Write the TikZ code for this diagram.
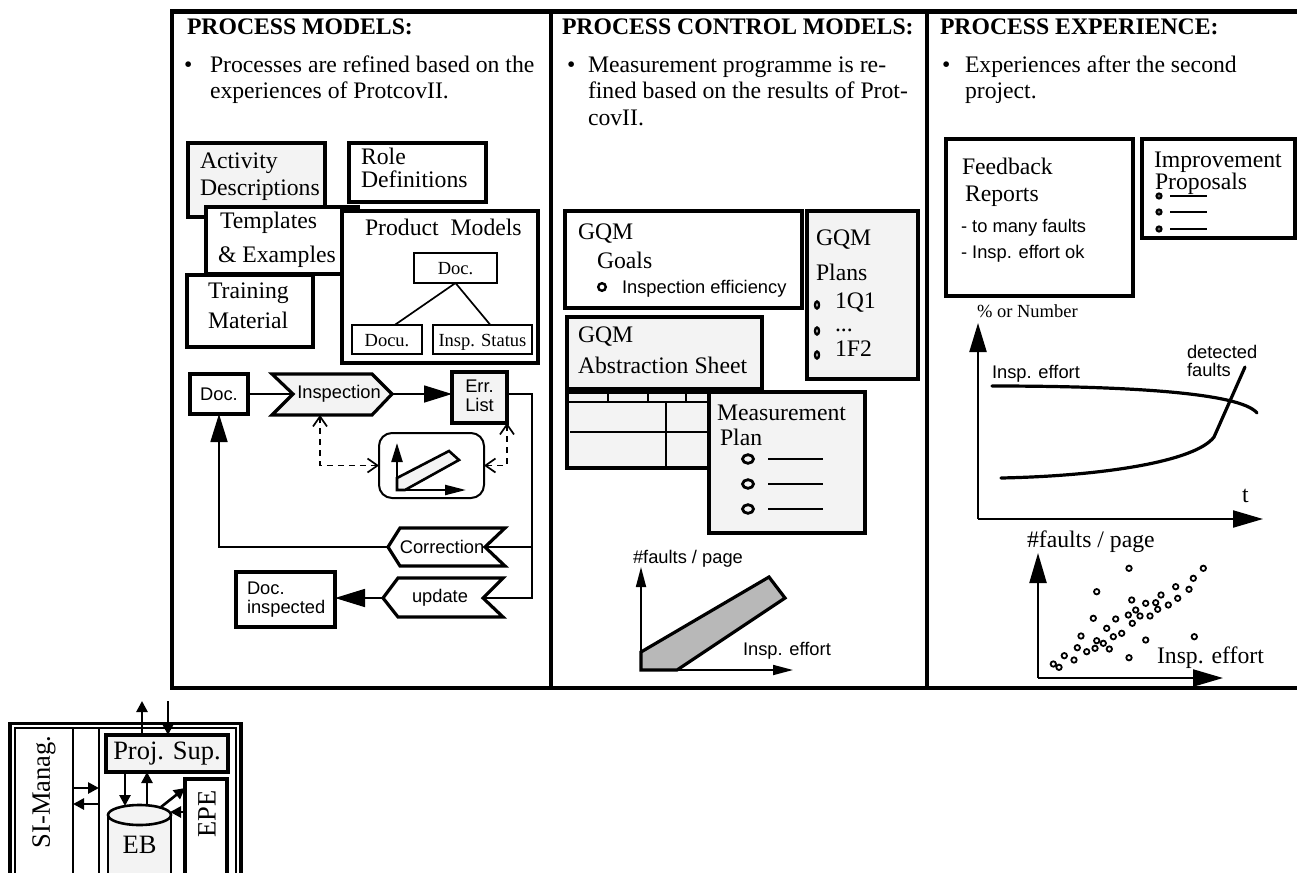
\documentclass[tikz,border=0pt]{standalone}
\usepackage{fontspec}
\setmainfont{Liberation Serif}
\setsansfont{Liberation Sans}
\usetikzlibrary{arrows.meta,calc}
\definecolor{lightfill}{RGB}{243,243,243}
\definecolor{bandfill}{RGB}{184,184,184}

\newcommand\fsL{\fontsize{23.7pt}{26pt}\selectfont}
\newcommand\fsM{\fontsize{18.5pt}{21pt}\selectfont}
\newcommand\fsS{\fontsize{18.3pt}{19pt}\selectfont\sffamily}
\newcommand\fsX{\fontsize{26.5pt}{28pt}\selectfont}

% rectangle node given by its top-left and bottom-right corners
\newcommand\mkbox[6][]{%
  \pgfmathsetmacro\bxw{#5-#3}%
  \pgfmathsetmacro\bxh{#6-#4}%
  \node[#1, anchor=north west, minimum width=\bxw pt, minimum height=\bxh pt,
        inner sep=0pt, outer sep=0pt] (#2) at (#3,#4) {};}

\tikzset{
  panel/.style={line width=4.8pt},
  bx/.style={draw, line width=3.2pt, fill=white},
  gbx/.style={bx, fill=lightfill},
  thinbx/.style={draw, line width=1.6pt, fill=white},
  shapeline/.style={line width=3.2pt, line join=miter},
  txt/.style={inner sep=0pt, outer sep=0pt, anchor=base west},
  ctxt/.style={inner sep=0pt, outer sep=0pt},
  conn/.style={line width=1.7pt},
  bigtip/.style={-{Triangle[length=28pt,width=17pt]}},
  dconn/.style={line width=1.7pt, dash pattern=on 6pt off 5pt,
    {Straight Barb[length=10pt,width=14pt]}-{Straight Barb[length=10pt,width=14pt]}},
  sarr/.style={line width=2.6pt, -{Triangle[length=11pt,width=11pt]}},
  curve/.style={line width=3.2pt, line cap=round},
  dot/.style={line width=1.8pt},
}

\begin{document}
\begin{tikzpicture}[x=1pt, y=-1pt]
\useasboundingbox (0,0) rectangle (1297,872);
\clip (0,0) rectangle (1297,872);
\fill[white] (0,0) rectangle (1297,872);

% ---------- frame of the three columns ----------
\draw[panel] (172,11.5) rectangle (1320,688);
\draw[panel] (551,11.5) -- (551,688);
\draw[panel] (927,11.5) -- (927,688);

% ================= PROCESS MODELS =================
\node[txt,font=\fsL\bfseries] (pmtitle) at (187,35) {PROCESS MODELS:};
\node[txt,font=\fsL] (pmbul) at (184,73) {\textbullet};
\node[txt,font=\fsL] (pmtxta) at (210,73) {Processes are refined based on the};
\node[txt,font=\fsL] (pmtxtb) at (210,99) {experiences of ProtcovII.};

\mkbox[gbx]{act}{188}{143}{325}{217}
\node[txt,font=\fsL] (acta) at (200,168) {Activity};
\node[txt,font=\fsL] (actb) at (200,195) {Descriptions};

\mkbox[bx]{role}{349}{143}{486}{202}
\node[txt,font=\fsL] (rolea) at (361,164) {Role};
\node[txt,font=\fsL] (roleb) at (361,187) {Definitions};

\mkbox[bx]{tmpl}{206}{207}{358}{274}
\node[txt,font=\fsL] (tmpla) at (220,228) {Templates};
\node[txt,font=\fsL] (tmplb) at (218,262) {\& Examples};

\mkbox[bx]{train}{187}{275}{313}{347}
\node[txt,font=\fsL] (traina) at (208,298) {Training};
\node[txt,font=\fsL] (trainb) at (208,328) {Material};

\mkbox[bx]{pm}{342}{211}{538}{363}
\node[txt,font=\fsL] (pmt) at (365,235) {Product\ \ Models};
\mkbox[thinbx]{pmdoc}{414}{253}{497}{283}
\node[ctxt,font=\fsM,anchor=base] (pmdoct) at (455.5,274) {Doc.};
\mkbox[thinbx]{pmdocu}{352}{325}{422}{354}
\node[ctxt,font=\fsM,anchor=base] (pmdocut) at (387,346) {Docu.};
\mkbox[thinbx]{pmstat}{433}{325}{532}{354}
\node[ctxt,font=\fsM,anchor=base] (pmstatt) at (482.5,346) {Insp. Status};
\draw[conn] (pmdoc.south) -- ($(pmdocu.north west)!0.61!(pmdocu.north east)$);
\draw[conn] (pmdoc.south) -- ($(pmstat.north west)!0.58!(pmstat.north east)$);

% ---- inspection process ----
\mkbox[bx]{doc}{190}{374}{248}{414}
\node[ctxt,font=\fsS] (doct) at (doc) {Doc.};

\coordinate (inspTL) at (272,374);
\coordinate (inspN)  at (293,394);
\coordinate (inspBL) at (272,415);
\coordinate (inspTR) at (372,374);
\coordinate (inspP)  at (392,394);
\coordinate (inspBR) at (372,415);
\draw[shapeline, fill=lightfill] (inspTL) -- (inspTR) -- (inspP) -- (inspBR) -- (inspBL) -- (inspN) -- cycle;
\node[ctxt,font=\fsS] (inspt) at (339,394) {Inspection};

\mkbox[gbx]{err}{452}{372}{507}{423}
\node[ctxt,font=\fsS,align=center] (errt) at (479.5,396) {Err.\\List};

\coordinate (corrP)  at (388,547);
\coordinate (corrTL) at (400,528);
\coordinate (corrTR) at (505,528);
\coordinate (corrN)  at (485,547);
\coordinate (corrBR) at (505,566);
\coordinate (corrBL) at (400,566);
\draw[shapeline, fill=white] (corrP) -- (corrTL) -- (corrTR) -- (corrN) -- (corrBR) -- (corrBL) -- cycle;
\node[ctxt,font=\fsS] (corrt) at (442,547) {Correction};

\coordinate (updP)  at (383,598);
\coordinate (updTL) at (398,578);
\coordinate (updTR) at (503,578);
\coordinate (updN)  at (483,598);
\coordinate (updBR) at (503,617);
\coordinate (updBL) at (398,617);
\draw[shapeline, fill=white] (updP) -- (updTL) -- (updTR) -- (updN) -- (updBR) -- (updBL) -- cycle;
\node[ctxt,font=\fsS] (updt) at (440,598) {update};

\mkbox[bx]{docins}{236}{572}{335}{627}
\node[ctxt,font=\fsS,align=left,anchor=west] (docinst) at (247,600) {Doc.\\inspected};

\mkbox[draw, line width=2pt, rounded corners=13pt]{chart}{379}{433}{484}{498}
\draw[line width=2.6pt, fill=lightfill, line join=miter]
  (397,478) -- (449,451) -- (459,460) -- (405,490) -- (397,490) -- cycle;
\draw[line width=2.2pt, -{Triangle[length=19pt,width=11pt]}] (397,490) -- (397,443);
\draw[line width=2.2pt, -{Triangle[length=21pt,width=10pt]}] (397,490) -- (466,490);

\coordinate (busC) at (532,547);
\coordinate (busU) at (532,598);
\coordinate (inspB) at (320,415);
\draw[conn] (doc.east) -- (inspN);
\draw[conn, bigtip] (inspP) -- (err.west |- inspP);
\draw[conn] (err.east |- inspP) -| (busU) -- (updN);
\draw[conn] (busC) -- (corrN);
\draw[conn, bigtip] (corrP) -| (doc.south);
\draw[conn, -{Triangle[length=30pt,width=18pt]}] (updP) -- (docins.east |- updP);
\draw[dconn] (inspB) |- (chart.west);
\draw[dconn] (err.south east) |- (chart.east);

% ================= PROCESS CONTROL MODELS =================
\node[txt,font=\fsL\bfseries] (pctitle) at (562,35) {PROCESS CONTROL MODELS:};
\node[txt,font=\fsL] (pcbul) at (567,73) {\textbullet};
\node[txt,font=\fsL] (pctxta) at (588,73) {Measurement programme is re-};
\node[txt,font=\fsL] (pctxtb) at (588,99) {fined based on the results of Prot-};
\node[txt,font=\fsL] (pctxtc) at (588,125) {covII.};

\mkbox[bx]{goals}{565}{211}{802}{308}
\node[txt,font=\fsL] (goalsa) at (578,239) {GQM};
\node[txt,font=\fsL] (goalsb) at (597,268) {Goals};
\draw[line width=2.4pt] (602,287) circle [radius=3.8pt];
\node[txt,font=\fsS] (goalsc) at (622,293) {Inspection efficiency};

\mkbox[gbx]{plans}{807}{211}{918}{379}
\node[txt,font=\fsL] (plansa) at (816,245) {GQM};
\node[txt,font=\fsL] (plansb) at (816,280) {Plans};
\foreach \yy in {305,331,355}
  \draw[line width=2.4pt] (817,\yy) ellipse [x radius=2pt, y radius=3.5pt];
\node[txt,font=\fsL] (plansc) at (835,308) {1Q1};
\node[txt,font=\fsL] (plansd) at (835,331) {...};
\node[txt,font=\fsL] (planse) at (835,356) {1F2};

\mkbox[gbx]{abs}{567}{317}{762}{389}
\node[txt,font=\fsL] (absa) at (578,342) {GQM};
\node[txt,font=\fsL] (absb) at (578,373) {Abstraction Sheet};

\mkbox[gbx]{sheet}{567}{392}{740}{468}
\draw[line width=2.8pt] (567,402) -- (740,402)
  (608,392) -- (608,402) (648,392) -- (648,402) (686,392) -- (686,402)
  (570,432) -- (740,432) (666,402) -- (666,468);

\mkbox[gbx]{mplan}{709}{392}{865}{533}
\node[txt,font=\fsL] (mplana) at (717,420) {Measurement};
\node[txt,font=\fsL] (mplanb) at (720,445) {Plan};
\foreach \yy in {459,484,509} {
  \draw[line width=2.8pt] (748,\yy) ellipse [x radius=5.5pt, y radius=4.3pt];
  \draw[line width=2.8pt] (768,\yy) -- (823,\yy);
}

\draw[line width=1.7pt, -{Triangle[length=20pt,width=10pt]}] (641,670) -- (641,567);
\draw[line width=1.7pt, -{Triangle[length=20pt,width=10pt]}] (641,670) -- (793,670);
\draw[line width=3.2pt, fill=bandfill, line join=miter]
  (641,652) -- (769,577) -- (785,598) -- (677,670) -- (641,670) -- cycle;
\node[txt,font=\fsS] (mcy) at (633,563) {\#faults / page};
\node[txt,font=\fsS] (mcx) at (743,655) {Insp. effort};

% ================= PROCESS EXPERIENCE =================
\node[txt,font=\fsL\bfseries] (petitle) at (940,35) {PROCESS EXPERIENCE:};
\node[txt,font=\fsL] (pebul) at (942,73) {\textbullet};
\node[txt,font=\fsL] (petxta) at (965,73) {Experiences after the second};
\node[txt,font=\fsL] (petxtb) at (965,99) {project.};

\mkbox[bx]{fb}{946}{139}{1133}{296}
\node[txt,font=\fsL] (fba) at (962,174) {Feedback};
\node[txt,font=\fsL] (fbb) at (965,201) {Reports};
\node[txt,font=\fsS] (fbc) at (961,232) {- to many faults};
\node[txt,font=\fsS] (fbd) at (961,258) {- Insp. effort ok};

\mkbox[bx]{ip}{1142}{139}{1295}{238}
\node[txt,font=\fsL] (ipa) at (1154,167) {Improvement};
\node[txt,font=\fsL] (ipb) at (1155,189) {Proposals};
\foreach \yy in {196,212,229} {
  \draw[line width=2pt, fill=black!60] (1159,\yy) circle [radius=2.6pt];
  \draw[line width=2.8pt] (1170,\yy) -- (1207,\yy);
}

\node[txt,font=\fsM] (ecy) at (977,317) {\% or Number};
\draw[line width=2.2pt, -{Triangle[length=29pt,width=17pt]}] (978,519) -- (978,323);
\draw[line width=2.2pt, -{Triangle[length=30pt,width=17pt]}] (978,519) -- (1263,519);
\node[txt,font=\fsL] (ecx) at (1242,502) {t};
\draw[curve] (992,386) .. controls (1120,386) and (1240,392) .. (1257,413);
\draw[curve] (1001,478) .. controls (1100,476) and (1195,462) .. (1214,437) -- (1245,367);
\node[txt,font=\fsS] (eceff) at (992,378) {Insp. effort};
\node[txt,font=\fsS] (ecdeta) at (1187,358) {detected};
\node[txt,font=\fsS] (ecdetb) at (1187,376) {faults};

\node[txt,font=\fsL] (scy) at (1027,547) {\#faults / page};
\draw[line width=2.2pt, -{Triangle[length=30pt,width=17pt]}] (1038,678) -- (1038,553);
\draw[line width=2.2pt, -{Triangle[length=30pt,width=17pt]}] (1038,678) -- (1223,678);
\node[txt,font=\fsL] (scx) at (1157,663) {Insp. effort};
\foreach \px/\py in {1129/568.3, 1203.3/568.3, 1193.3/578.3, 1096.7/591.7, 1175.7/586.7,
    1189/589.3, 1161/595, 1131.7/600, 1145.7/603.3, 1155.7/602.7, 1168.3/605,
    1177.7/598.3, 1157.7/609.3, 1135.7/610, 1093.3/618.3, 1115.7/619, 1128.3/615,
    1140/616, 1150/616, 1132.3/623.3, 1106.7/628.3, 1113.3/636.7, 1121.7/633.3,
    1081/636, 1096.7/640.7, 1103.3/643.3, 1109.3/649, 1095/648.3, 1086.7/651.7,
    1077.3/647.7, 1064.3/655.7, 1074/660, 1053.3/664, 1059/667.3, 1129/657.7,
    1145.7/640, 1194.3/636.7}
  \draw[dot] (\px,\py) circle [radius=2.7pt];

% ================= SI organisation =================
\mkbox[draw, line width=3.2pt]{siframe}{10}{723.5}{241}{900}
\mkbox[draw, line width=1.3pt]{siinner}{15}{728}{236}{900}
\mkbox[draw, line width=1.3pt]{simanag}{15}{728}{73}{900}
\mkbox[draw, line width=1.6pt]{prjarea}{99}{728}{236}{900}
\node[ctxt,font=\fsX,rotate=90] (simt) at (44,792) {SI-Manag.};

\mkbox[gbx]{projsup}{106}{735}{228}{772}
\node[ctxt,font=\fsX] (projt) at (projsup) {Proj. Sup.};

\fill[lightfill] (108,815) rectangle (171,900);
\draw[line width=2.6pt] (108,815) -- (108,900) (171,815) -- (171,900);
\draw[line width=2.6pt, fill=lightfill] (139.5,815) ellipse [x radius=31.5pt, y radius=10pt];
\node[ctxt,font=\fsX,anchor=base] (ebt) at (139.5,853) {EB};

\mkbox[bx]{epe}{185}{779}{227}{900}
\node[ctxt,font=\fsX,rotate=90] (epet) at (207,814) {EPE};

\coordinate (outU) at (142,701);
\coordinate (inD)  at (168,701);
\coordinate (ebA)  at (125,806);
\coordinate (ebB)  at (147,805);
\coordinate (ebC)  at (161,807);
\coordinate (ebD)  at (170,812);
\draw[sarr] (projsup.north -| outU) -- (outU);
\draw[sarr] (inD) -- (projsup.north -| inD);
\draw[sarr] (projsup.south -| ebA) -- (ebA);
\draw[sarr] (ebB) -- (projsup.south -| ebB);
\draw[sarr] (ebC) -- (epe.west |- 0,788);
\draw[sarr] (epe.west |- 0,812) -- (ebD);
\draw[sarr] (simanag.east |- 0,788) -- (prjarea.west |- 0,788);
\draw[sarr] (prjarea.west |- 0,804) -- (simanag.east |- 0,804);

\end{tikzpicture}
\end{document}
